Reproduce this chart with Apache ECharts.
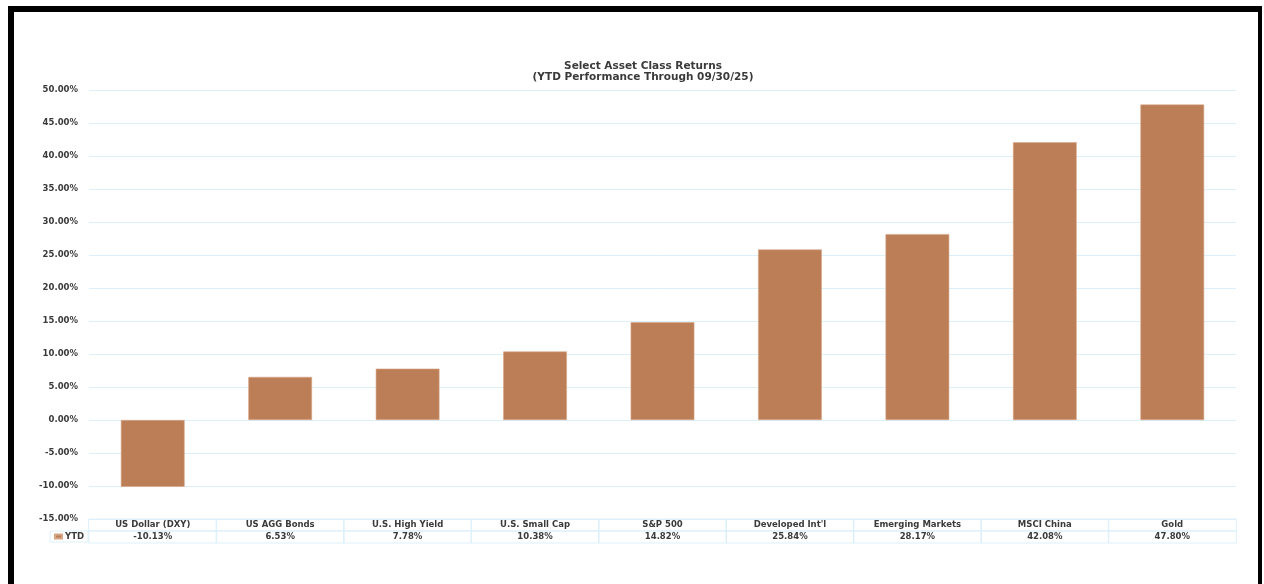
<!DOCTYPE html>
<html>
<head>
<meta charset="utf-8">
<script src="https://cdn.jsdelivr.net/npm/echarts@6/dist/echarts.min.js"></script>
<style>
html,body{margin:0;padding:0;background:#fff;}
#c{width:1264px;height:584px;}
</style>
</head>
<body>
<div id="c"></div>
<script>
const categories = ['US Dollar (DXY)', 'US AGG Bonds', 'U.S. High Yield', 'U.S. Small Cap', 'S&P 500', "Developed Int'l", 'Emerging Markets', 'MSCI China', 'Gold'];
const ytdValues = [-10.13, 6.53, 7.78, 10.38, 14.82, 25.84, 28.17, 42.08, 47.80];
const seriesName = 'YTD';
const titleLines = ['Select Asset Class Returns', '(YTD Performance Through 09/30/25)'];
const yMin = -15, yMax = 50, yStep = 5;

const FONT = '"DejaVu Sans", "Open Sans", sans-serif';
const TXT = '#3a3a3a';
const GRIDC = '#ddf0fa';
const BAR = '#bc7e57';

const chart = echarts.init(document.getElementById('c'), null, {renderer: 'canvas'});
const fmtPct = v => v.toFixed(2) + '%';

chart.setOption({
  backgroundColor: '#fff',
  animation: false,
  title: {
    text: titleLines.join('\n'),
    left: 638, top: 56, textAlign: 'center',
    textStyle: {fontFamily: FONT, fontSize: 10.5, fontWeight: 'bold', color: TXT, lineHeight: 11}
  },
  legend: {
    data: [seriesName],
    left: 50, top: 531,
    padding: [1, 4, 1, 4],
    borderColor: GRIDC, borderWidth: 1,
    itemWidth: 7, itemHeight: 4,
    icon: 'rect',
    textStyle: {fontFamily: FONT, fontSize: 8.5, fontWeight: 'bold', color: TXT, padding: [0, 0, 0, -2]}
  },
  grid: {left: 89, right: 28, top: 90, bottom: 65, containLabel: false},
  xAxis: {
    type: 'category',
    data: categories,
    position: 'bottom',
    axisLine: {show: false, onZero: false},
    axisTick: {show: false},
    splitLine: {show: false},
    axisLabel: {
      interval: 0, margin: 0,
      formatter: (v, i) => '{c|' + v + '}\n{d|' + fmtPct(ytdValues[i]) + '}',
      rich: {
        c: {width: 128, height: 12, lineHeight: 12, align: 'center', borderColor: GRIDC, borderWidth: 1,
            fontFamily: FONT, fontSize: 8.5, fontWeight: 'bold', color: TXT},
        d: {width: 128, height: 12, lineHeight: 12, align: 'center', borderColor: GRIDC, borderWidth: 1,
            fontFamily: FONT, fontSize: 8.5, fontWeight: 'bold', color: TXT}
      }
    }
  },
  yAxis: {
    type: 'value',
    min: yMin, max: yMax, interval: yStep,
    axisLine: {show: false},
    axisTick: {show: false},
    splitLine: {lineStyle: {color: GRIDC, width: 1}},
    axisLabel: {
      margin: 11,
      formatter: v => fmtPct(v),
      fontFamily: FONT, fontSize: 8.5, fontWeight: 'bold', color: TXT
    }
  },
  series: [{
    name: seriesName,
    type: 'bar',
    data: ytdValues,
    barWidth: '50%',
    itemStyle: {color: BAR, borderColor: '#d6a686', borderWidth: 0.6}
  }],
  graphic: [
    {type: 'rect', shape: {x: 8, y: 6, width: 1254, height: 6}, style: {fill: '#000'}, silent: true},
    {type: 'rect', shape: {x: 8, y: 6, width: 6, height: 578}, style: {fill: '#000'}, silent: true},
    {type: 'rect', shape: {x: 1258, y: 6, width: 4, height: 578}, style: {fill: '#000'}, silent: true}
  ]
});
</script>
</body>
</html>
